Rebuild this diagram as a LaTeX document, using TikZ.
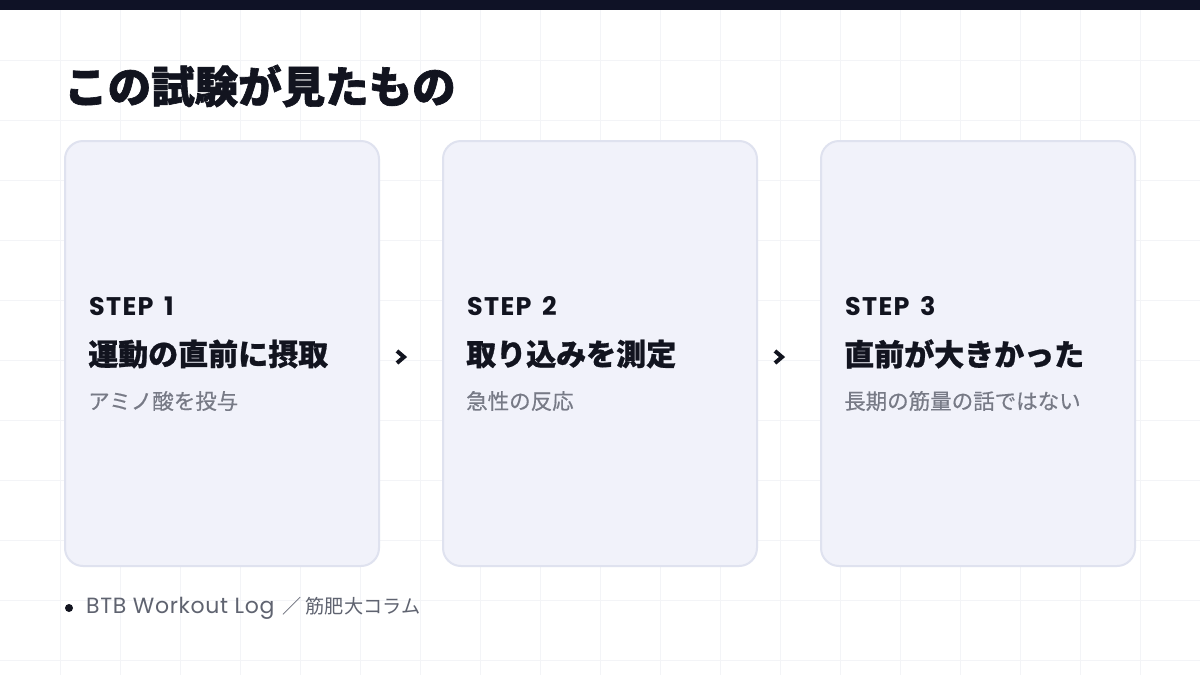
\documentclass[tikz,border=0pt]{standalone}
\usepackage{fontspec}
\newfontfamily\jp{Noto Sans CJK JP}
\newfontfamily\lat{Poppins}
\definecolor{barc}{HTML}{0F1226}
\definecolor{gridc}{HTML}{F3F4F7}
\definecolor{cardfill}{HTML}{F1F2FA}
\definecolor{cardline}{HTML}{DFE2EF}
\definecolor{ink}{HTML}{12141F}
\definecolor{subc}{HTML}{777A86}
\definecolor{footc}{HTML}{5F6370}
\tikzset{
  card/.style={draw=cardline, line width=2pt, fill=cardfill, rounded corners=18pt, minimum width=314pt, minimum height=425pt, inner sep=0pt},
  steplbl/.style={anchor=west, inner sep=0pt, font=\lat\bfseries\addfontfeatures{LetterSpace=5}\fontsize{25.5}{28}\selectfont, text=ink},
  headlbl/.style={anchor=west, inner sep=0pt, font=\jp\bfseries\addfontfeatures{FakeBold=0.8}\fontsize{30}{33}\selectfont, text=ink},
  sublbl/.style={anchor=west, inner sep=0pt, font=\jp\addfontfeatures{FakeBold=0.5}\fontsize{21.5}{24}\selectfont, text=subc},
  chev/.style={draw=ink, line width=4pt, miter limit=10}
}
\begin{document}
\begin{tikzpicture}[x=1pt,y=-1pt]
\useasboundingbox (0,0) rectangle (1200,675);
\fill[white] (0,0) rectangle (1200,675);
\foreach \i in {60,120,...,1140} \draw[gridc, line width=1pt] (\i,0) -- (\i,675);
\foreach \j in {60,120,...,660} \draw[gridc, line width=1pt] (0,\j) -- (1200,\j);
\fill[barc] (0,0) rectangle (1200,10);
\node[anchor=west, inner sep=0pt, font=\jp\bfseries\addfontfeatures{FakeBold=1.5}\fontsize{43.5}{48}\selectfont, text=ink] (title) at (64,86) {この試験が見たもの};
% cards
\node[card] (c1) at (222,353.5) {};
\node[card] (c2) at (600,353.5) {};
\node[card] (c3) at (978,353.5) {};
% card 1
\node[steplbl] (s1) at (89,306) {STEP\hspace{4pt} 1};
\node[headlbl] (h1) at (88,354) {運動の直前に摂取};
\node[sublbl] (u1) at (88,401) {アミノ酸を投与};
% card 2
\node[steplbl] (s2) at (467,306) {STEP\hspace{4pt} 2};
\node[headlbl] (h2) at (466,354) {取り込みを測定};
\node[sublbl] (u2) at (466,401) {急性の反応};
% card 3
\node[steplbl] (s3) at (845,306) {STEP\hspace{4pt} 3};
\node[headlbl] (h3) at (844,354) {直前が大きかった};
\node[sublbl] (u3) at (844,401) {長期の筋量の話ではない};
% chevrons
\coordinate (a1) at (401,357);
\coordinate (a2) at (779,357);
\draw[chev] ([shift={(-4,-6)}]a1) -- ([shift={(3,0)}]a1) -- ([shift={(-4,6)}]a1);
\draw[chev] ([shift={(-4,-6)}]a2) -- ([shift={(3,0)}]a2) -- ([shift={(-4,6)}]a2);
% footer
\fill[ink] (69,608) circle (4pt);
\node[anchor=west, inner sep=0pt, text=footc] (foot) at (86,608) {\lat\addfontfeatures{LetterSpace=3}\fontsize{22}{24}\selectfont BTB Workout Log\hspace{8pt}\jp\fontsize{19.2}{22}\selectfont ／\hspace{4pt}筋肥大コラム};
\end{tikzpicture}
\end{document}
